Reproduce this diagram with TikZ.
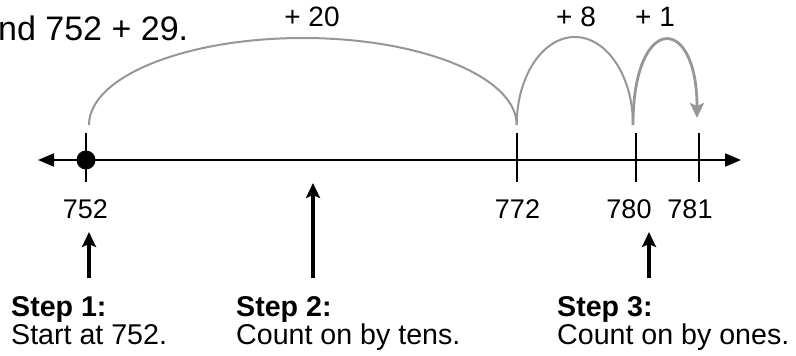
\documentclass[tikz,border=0pt]{standalone}
\usepackage{fontspec}
\setmainfont{Liberation Sans}
\usetikzlibrary{arrows.meta}
\definecolor{arcgray}{RGB}{150,150,150}
\begin{document}
\begin{tikzpicture}[x=1pt,y=-1pt,
  numlbl/.style={font=\fontsize{27}{32}\selectfont, anchor=base, inner sep=0},
  plbl/.style={font=\fontsize{28}{32}\selectfont, anchor=base, inner sep=0},
  stephead/.style={font=\fontsize{28.6}{34}\selectfont\bfseries, anchor=base west, inner sep=0},
  steptext/.style={font=\fontsize{28.6}{34}\selectfont, anchor=base west, inner sep=0},
  tickmark/.style={line width=1.6},
  jump/.style={draw=arcgray, line width=2},
  uparrow/.style={line width=3.2, -{Stealth[length=15pt,width=14pt,inset=3pt]}}]
\useasboundingbox (0,0) rectangle (796,356);
% title
\node[font=\fontsize{34}{40}\selectfont, anchor=base west, inner sep=0] (title) at (-2,40) {nd 752 + 29.};
% number line
\coordinate (L) at (38,160);
\coordinate (R) at (741,160);
\draw[line width=2, {Triangle[length=16pt,width=13pt]}-{Triangle[length=16pt,width=13pt]}] (L) -- (R);
% ticks
\coordinate (t752) at (86,160);
\coordinate (t772) at (516.7,160);
\coordinate (t780) at (635.7,160);
\coordinate (t781) at (699,160);
\foreach \t in {t752,t772,t780,t781}{
  \draw[tickmark] ([yshift=27pt]\t) -- ([yshift=-22pt]\t);
}
\fill (t752) circle (9.5);
% jumps
\coordinate (a1) at (89,125);
\coordinate (a2) at (516.7,125);
\coordinate (a3) at (633,125);
\coordinate (a4) at (697,118);
\draw[jump] (a1) arc[start angle=180, end angle=360, x radius=213.85, y radius=87];
\draw[jump] (a2) arc[start angle=180, end angle=360, x radius=58.15, y radius=88];
\draw[jump, line width=2.8, -{Stealth[length=15pt,width=14pt,inset=3pt]}] (a3) .. controls (633,13) and (697,13) .. (a4);
% jump labels
\node[plbl] (p20) at (312,26) {+ 20};
\node[plbl] (p8) at (576,26) {+ 8};
\node[plbl] (p1) at (655,26) {+ 1};
% number labels
\node[numlbl] (n752) at (85.5,218) {752};
\node[numlbl] (n772) at (517.5,218) {772};
\node[numlbl] (n780) at (629,218) {780};
\node[numlbl] (n781) at (690,218) {781};
% steps
\node[stephead] (s1h) at (11,316) {Step 1:};
\node[steptext] (s1t) at (11,344) {Start at 752.};
\node[stephead] (s2h) at (236,316) {Step 2:};
\node[steptext] (s2t) at (236,344) {Count on by tens.};
\node[stephead] (s3h) at (557,316) {Step 3:};
\node[steptext] (s3t) at (557,344) {Count on by ones.};
% step arrows
\coordinate (u1s) at (89,278); \coordinate (u1e) at (89,232);
\coordinate (u2s) at (313,278); \coordinate (u2e) at (313,183);
\coordinate (u3s) at (649,278); \coordinate (u3e) at (649,232);
\draw[uparrow] (u1s) -- (u1e);
\draw[uparrow] (u2s) -- (u2e);
\draw[uparrow] (u3s) -- (u3e);
\end{tikzpicture}
\end{document}
